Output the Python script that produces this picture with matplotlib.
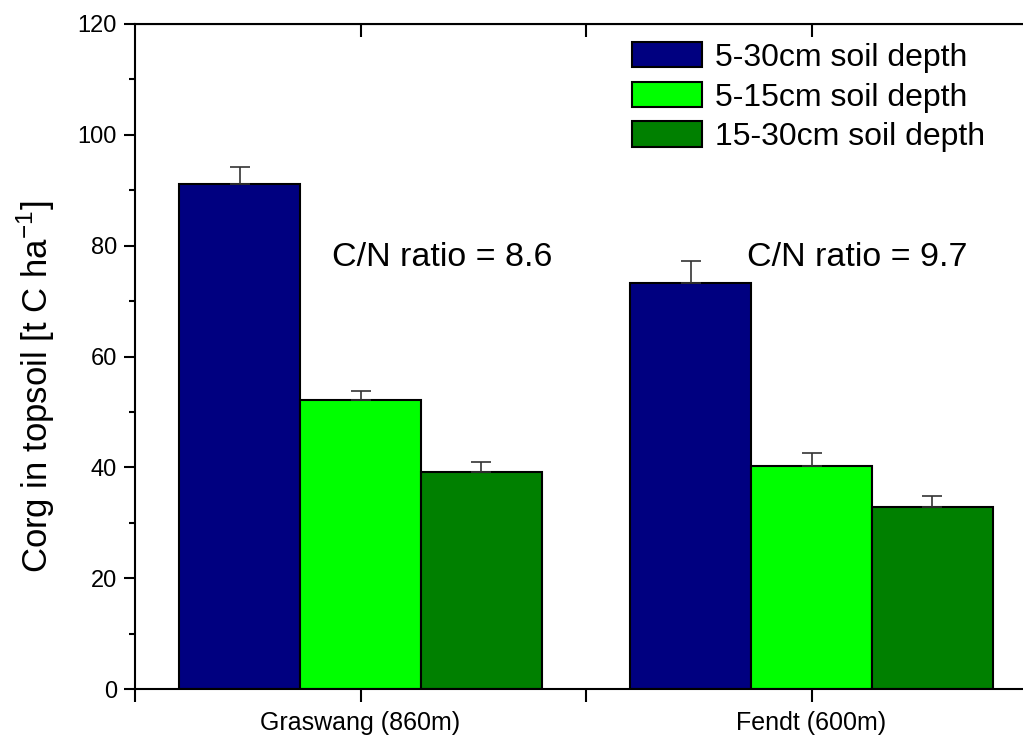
import matplotlib
matplotlib.use("Agg")
import matplotlib.pyplot as plt
import numpy as np
from matplotlib.ticker import MultipleLocator, FixedLocator

plt.rcParams['font.family'] = ['Liberation Sans', 'DejaVu Sans']

sites = ["Graswang (860m)", "Fendt (600m)"]
series = ["5-30cm soil depth", "5-15cm soil depth", "15-30cm soil depth"]
depth_5_30 = [91.1, 73.3]
depth_5_15 = [52.1, 40.2]
depth_15_30 = [39.1, 32.9]
err_5_30 = [3.1, 3.9]
err_5_15 = [1.7, 2.4]
err_15_30 = [1.8, 1.9]
cn_labels = ["C/N ratio = 8.6", "C/N ratio = 9.7"]
colors = ["#000080", "#00FF00", "#008000"]

values = [depth_5_30, depth_5_15, depth_15_30]
errors = [err_5_30, err_5_15, err_15_30]

fig = plt.figure(figsize=(10.23, 7.36), dpi=100)
ax = fig.add_axes([135/1023, 1-689/736, 902/1023, 665/736])

x = np.arange(1, len(sites)+1)
w = 0.268
for i, (vals, errs, c, lab) in enumerate(zip(values, errors, colors, series)):
    pos = x + (i-1)*w
    ax.bar(pos, vals, width=w, color=c, edgecolor='black', linewidth=1.5, label=lab, zorder=2)
    ax.errorbar(pos, vals, yerr=[np.zeros(len(errs)), errs], fmt='none',
                ecolor='#333333', elinewidth=1.2, capsize=7, capthick=1.2, zorder=3)

ax.set_xlim(0.5, 2.5)
ax.set_ylim(0, 120)
ax.yaxis.set_major_locator(MultipleLocator(20))
ax.yaxis.set_minor_locator(MultipleLocator(10))
ax.xaxis.set_major_locator(FixedLocator([1, 2]))
ax.xaxis.set_minor_locator(FixedLocator([0.5, 1.5, 2.5]))
ax.set_xticklabels(sites)
ax.tick_params(axis='y', which='major', direction='out', length=8, width=1.5, labelsize=17, pad=5)
ax.tick_params(axis='y', which='minor', direction='out', length=4.5, width=1.5)
ax.tick_params(axis='x', which='both', direction='out', length=9, width=1.5, pad=7, labelsize=18)
for s in ax.spines.values():
    s.set_linewidth(1.5)

# top ticks inward
ax2 = ax.secondary_xaxis('top')
ax2.xaxis.set_major_locator(FixedLocator([1, 2]))
ax2.xaxis.set_minor_locator(FixedLocator([1.5]))
ax2.tick_params(axis='x', which='both', direction='in', length=9, width=1.5)
ax2.set_xticklabels([])
ax.tick_params(axis='x', which='both', top=False)

ax.set_ylabel("Corg in topsoil [t C ha$^{\\mathregular{-1}}$]", fontsize=25)
ax.yaxis.set_label_coords(-0.087, 0.455)

ax.text(0.937, 77.8, cn_labels[0], fontsize=24.5, va='center', ha='left')
ax.text(1.857, 77.8, cn_labels[1], fontsize=24.5, va='center', ha='left')

leg = ax.legend(loc='upper left', bbox_to_anchor=(632/1023, 1-42/736), bbox_transform=fig.transFigure,
                frameon=False, fontsize=23, handlelength=2.2, handleheight=0.85,
                handletextpad=0.4, labelspacing=0.28, borderpad=0, borderaxespad=0)

fig.savefig("out.png", dpi=100)
